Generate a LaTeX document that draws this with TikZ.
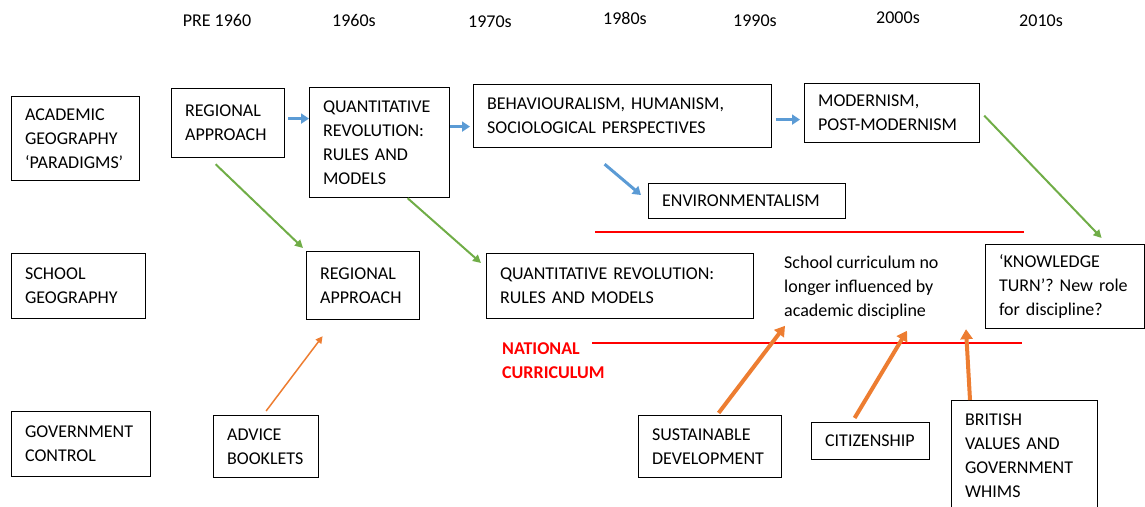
\documentclass[tikz,border=0pt]{standalone}
\usepackage{fontspec}
\setmainfont{Carlito}
\usetikzlibrary{arrows.meta,calc}

\definecolor{arrblue}{HTML}{5B9BD5}
\definecolor{arrgreen}{HTML}{70AD47}
\definecolor{arrorange}{HTML}{ED7D31}
\definecolor{ncred}{HTML}{FF0000}

\hyphenpenalty=10000
\exhyphenpenalty=10000
\frenchspacing

\tikzset{
	every node/.style={font=\fontsize{18}{24}\selectfont},
	box/.style={draw, line width=1.2pt, anchor=north west, align=left, inner xsep=13.5pt, inner ysep=0pt},
	plain/.style={anchor=north west, align=left, inner sep=0pt},
	bluearr/.style={draw=arrblue, line width=3pt, -{Triangle[length=8pt,width=10pt]}},
	greenarr/.style={draw=arrgreen, line width=2pt, -{Triangle[length=8pt,width=8pt]}},
	orangearr/.style={draw=arrorange, line width=4pt, -{Triangle[length=10pt,width=12pt]}},
	thinorange/.style={draw=arrorange, line width=1.5pt, -{Triangle[length=7pt,width=7pt]}},
	redline/.style={draw=ncred, line width=2.5pt}
}

\begin{document}
\begin{tikzpicture}[x=1pt, y=-1pt]
		%%%%% START %%%%%
		\useasboundingbox (0,0) rectangle (1145,506);
		
		% decades
		\node (yr1) at (217,20) {PRE 1960};
		\node (yr2) at (354,20) {1960s};
		\node (yr3) at (490,22) {1970s};
		\node (yr4) at (625,18) {1980s};
		\node (yr5) at (755,21) {1990s};
		\node (yr6) at (898,18) {2000s};
		\node (yr7) at (1041,21) {2010s};
		
		% row headings
		\node[box, text width=101pt, minimum height=84pt] (acad) at (11,96) {ACADEMIC\\GEOGRAPHY\\‘PARADIGMS’};
		\node[box, text width=107pt, minimum height=65pt] (school) at (11,253) {SCHOOL\\GEOGRAPHY};
		\node[box, text width=112pt, minimum height=65pt] (gov) at (11,411) {GOVERNMENT\\CONTROL};
		
		% academic geography
		\node[box, text width=86pt, minimum height=69pt] (rega) at (171,88) {REGIONAL\\APPROACH};
		\node[box, text width=113pt, minimum height=110pt] (qa) at (309,87) {QUANTITATIVE\\REVOLUTION:\\RULES AND\\MODELS};
		\node[box, text width=271pt, minimum height=63pt] (bh) at (473,84) {BEHAVIOURALISM, HUMANISM,\\SOCIOLOGICAL PERSPECTIVES};
		\node[box, text width=148pt, minimum height=59pt] (mod) at (804,83) {MODERNISM,\\POST-MODERNISM};
		\node[box, text width=170pt, minimum height=35pt] (env) at (648,183) {ENVIRONMENTALISM};
		
		% school geography
		\node[box, text width=86pt, minimum height=68pt] (regs) at (306,251) {REGIONAL\\APPROACH};
		\node[box, text width=240pt, minimum height=65pt] (qs) at (486,253) {QUANTITATIVE REVOLUTION:\\RULES AND MODELS};
		\node[plain] (curr) at (784,256) {School curriculum no\\longer influenced by\\academic discipline};
		\node[box, text width=132pt, minimum height=84pt] (kn) at (985,244) {‘KNOWLEDGE\\TURN’? New role\\for discipline?};
		
		% government control
		\node[box, text width=78pt, minimum height=62pt] (adv) at (213,415) {ADVICE\\BOOKLETS};
		\node[box, text width=116pt, minimum height=62pt] (sus) at (638,415) {SUSTAINABLE\\DEVELOPMENT};
		\node[box, text width=91pt, minimum height=37pt] (cit) at (811,422) {CITIZENSHIP};
		\node[box, text width=119pt, minimum height=110pt] (bri) at (951,400) {BRITISH\\VALUES AND\\GOVERNMENT\\WHIMS};
		
		% national curriculum
		\node[plain, text=ncred, font=\fontsize{18}{24}\selectfont\bfseries] (nc) at (502,342) {NATIONAL\\CURRICULUM};
		\draw[redline] (595,232) -- (1024,232);
		\draw[redline] (592,343) -- (1022,343);
		
		% paradigm shifts
		\draw[bluearr, shorten <=3pt] ([yshift=4.5pt]rega.east) -- ([yshift=4.5pt]rega.east -| qa.west);
		\draw[bluearr, shorten >=3pt] ([yshift=16pt]qa.east) -- ([yshift=16pt]qa.east -| bh.west);
		\draw[bluearr, shorten <=4pt, shorten >=4pt] ([yshift=-3.5pt]bh.east) -- ([yshift=-3.5pt]bh.east -| mod.west);
		\draw[bluearr] ([shift={(-18,16)}]bh.south) -- ([shift={(-7,12)}]env.north west);
		
		% academic into school
		\draw[greenarr] ([shift={(-12.5,6)}]rega.south) -- ([shift={(-3,-3)}]regs.north west);
		\draw[greenarr] ([shift={(28,0)}]qa.south) -- ([shift={(-5,10)}]qs.north west);
		\draw[greenarr] ([shift={(4,2.5)}]mod.east) -- ([shift={(36.5,-6)}]kn.north);
		
		% government influence
		\draw[thinorange] ([shift={(0,-4)}]adv.north) -- ([shift={(-40.5,16)}]regs.south);
		\draw[orangearr] ([shift={(8.5,-2)}]sus.north) -- ([shift={(1,6)}]curr.south west);
		\draw[orangearr] ([shift={(-16,-4)}]cit.north) -- ([shift={(123,11)}]curr.south west);
		\draw[orangearr] ([shift={(19,0)}]bri.north west) -- ([shift={(-19,0)}]kn.south west);
		
		%%%%% END %%%%%
\end{tikzpicture}
\end{document}
